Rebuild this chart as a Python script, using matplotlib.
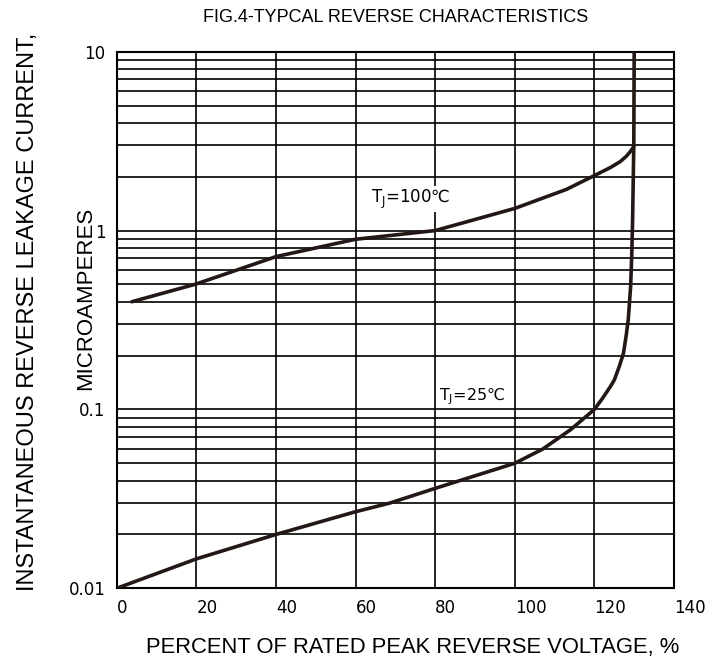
import numpy as np
import matplotlib.pyplot as plt
from matplotlib.ticker import FixedLocator, NullFormatter

# data
x_25 = [0, 20, 40, 60, 68.7, 80, 100, 107, 114, 120, 122, 124, 125, 126.3, 127.3, 128, 128.5, 129.1, 129.4, 129.6, 129.9, 130]
i_25 = [0.01, 0.0146, 0.02, 0.0268, 0.03, 0.0362, 0.05, 0.06, 0.077, 0.1, 0.115, 0.134, 0.146, 0.175, 0.206, 0.26, 0.316, 0.485, 0.746, 1.15, 3.0, 10.0]

x_100 = [3.8, 20, 40, 60, 80, 100, 113, 120, 124, 126.5, 128, 129, 129.6, 130]
i_100 = [0.4, 0.503, 0.715, 0.894, 1.0, 1.33, 1.7, 2.03, 2.25, 2.43, 2.6, 2.76, 2.88, 3.0]

x_ticks = [0, 20, 40, 60, 80, 100, 120, 140]
y_ticks = [0.01, 0.1, 1, 10]
y_tick_labels = ['0.01', '0.1', '1', '10']

title = 'FIG.4-TYPCAL REVERSE CHARACTERISTICS'
x_label = 'PERCENT OF RATED PEAK REVERSE VOLTAGE, %'
y_label_1 = 'INSTANTANEOUS REVERSE LEAKAGE CURRENT,'
y_label_2 = 'MICROAMPERES'

W, H = 717, 664
fig = plt.figure(figsize=(W / 100, H / 100), dpi=100)
ax = fig.add_axes([116.7 / W, 1 - 588.3 / H, (674 - 116.7) / W, (588.3 - 51.7) / H])

ax.set_yscale('log')
ax.set_xlim(0, 140)
ax.set_ylim(0.01, 10)

# grid: every decade sub-line
minor = [m * 10.0 ** e for e in (-2, -1, 0) for m in range(2, 10)]
ax.yaxis.set_minor_locator(FixedLocator(minor))
ax.yaxis.set_minor_formatter(NullFormatter())
ax.set_xticks(x_ticks)
ax.set_yticks(y_ticks)
ax.set_yticklabels(y_tick_labels)
ax.grid(True, which='both', color='black', linewidth=1.2)
ax.tick_params(which='both', length=0)
ax.tick_params(axis='x', pad=8, labelsize=12)
ax.tick_params(axis='y', pad=8, labelsize=12)
for lbl in ax.get_xticklabels():
    lbl.set_horizontalalignment('left')
for s in ax.spines.values():
    s.set_linewidth(1.5)

ax.plot(x_25, i_25, color='#231815', linewidth=2.6, solid_capstyle='round', zorder=3)
ax.plot(x_100, i_100, color='#231815', linewidth=2.6, solid_capstyle='round', zorder=3)

ax.text(64, 1.5, 'T$_\\mathrm{J}$=100℃', fontsize=12, va='center', ha='left',
        bbox=dict(facecolor='white', edgecolor='none', pad=1))
ax.text(81, 0.118, 'T$_\\mathrm{J}$=25℃', fontsize=11.5, va='center', ha='left',
        bbox=dict(facecolor='white', edgecolor='none', pad=1))

sans = ['Liberation Sans', 'DejaVu Sans']
fig.text(396 / W, 1 - 18 / H, title, ha='center', va='center', fontsize=13, family=sans)
fig.text(413 / W, 1 - 648 / H, x_label, ha='center', va='center', fontsize=15.8, family=sans)
fig.text(28 / W, 1 - 312 / H, y_label_1, ha='center', va='center', rotation=90, fontsize=17, family=sans)
fig.text(86 / W, 1 - 298 / H, y_label_2, ha='center', va='center', rotation=90, fontsize=16, family=sans)

fig.savefig('out.png', dpi=100)
